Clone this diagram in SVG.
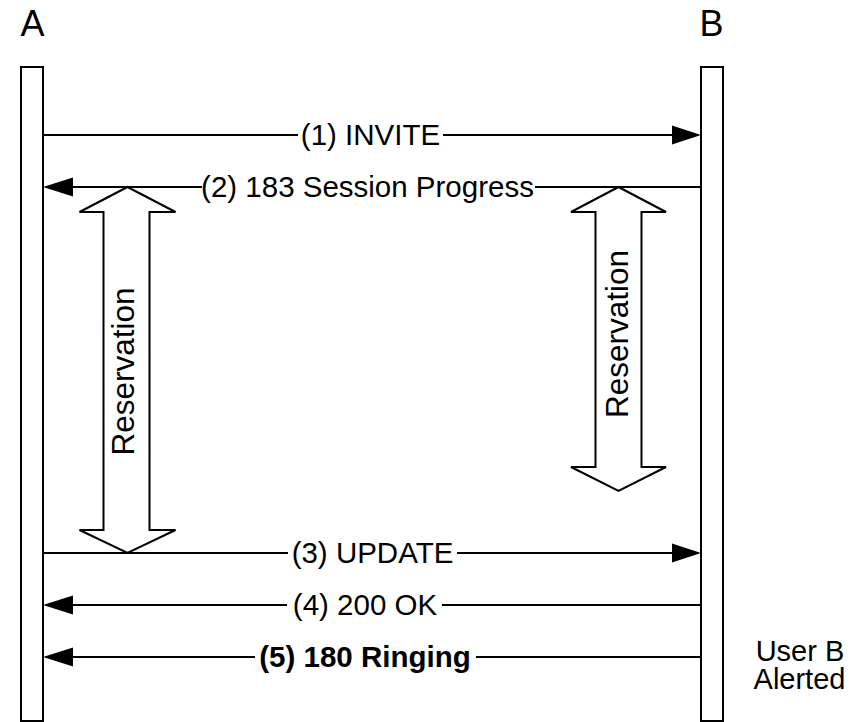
<svg xmlns="http://www.w3.org/2000/svg" width="865" height="722" viewBox="0 0 865 722">
<style>
  .bar { fill: #ffffff; stroke: #000000; stroke-width: 2; }
  .ln { stroke: #000000; stroke-width: 2; fill: none; }
  .head { fill: #000000; stroke: none; }
  .big { fill: #ffffff; stroke: #000000; stroke-width: 2; stroke-linejoin: miter; }
  text { font-family: "Liberation Sans", Arial, sans-serif; font-size: 29.5px; fill: #000000; }
  .lbl { text-anchor: middle; }
  .name { font-size: 36px; }
  .res { font-size: 31.5px; }
  .note { font-size: 29px; }
  .bold { font-weight: bold; }
</style>
<rect width="865" height="722" fill="#ffffff"/>
<g id="A">
  <text class="name" x="20.5" y="36">A</text>
  <rect class="bar" x="21" y="67" width="22" height="654"/>
</g>
<g id="B">
  <text class="name" x="699.5" y="36">B</text>
  <rect class="bar" x="701" y="67" width="22" height="654"/>
</g>
<g id="resA">
  <polygon class="big" points="127.5,187 175.5,212 149.5,212 149.5,530 175.5,530 127.5,553 79.5,530 103.5,530 103.5,212 79.5,212"/>
  <text class="lbl res" transform="translate(134,371.5) rotate(-90)" x="0" y="0">Reservation</text>
</g>
<g id="resB">
  <polygon class="big" points="618.5,187 666,212 641.5,212 641.5,467 666,467 618.5,491 571,467 595.5,467 595.5,212 571,212"/>
  <text class="lbl res" transform="translate(628,334) rotate(-90)" x="0" y="0">Reservation</text>
</g>
<g id="B-alert">
  <text class="lbl note" x="800" y="661">User B</text>
  <text class="lbl note" x="799.5" y="689">Alerted</text>
</g>
<g id="connectors">
  <g id="m1">
    <line class="ln" x1="43" y1="135" x2="298" y2="135"/>
    <line class="ln" x1="443" y1="135" x2="673" y2="135"/>
    <polygon class="head" points="672,125.5 701,135 672,144.5"/>
    <text class="lbl" x="370.5" y="144.5">(1) INVITE</text>
  </g>
  <g id="m2">
    <line class="ln" x1="72" y1="187" x2="202" y2="187"/>
    <line class="ln" x1="535" y1="187" x2="701" y2="187"/>
    <polygon class="head" points="73,177.5 43,187 73,196.5"/>
    <text class="lbl" x="367.5" y="196.5">(2) 183 Session Progress</text>
  </g>
  <g id="m3">
    <line class="ln" x1="43" y1="553" x2="288" y2="553"/>
    <line class="ln" x1="457" y1="553" x2="673" y2="553"/>
    <polygon class="head" points="672,543.5 701,553 672,562.5"/>
    <text class="lbl" x="372.5" y="562.5">(3) UPDATE</text>
  </g>
  <g id="m4">
    <line class="ln" x1="72" y1="605" x2="287" y2="605"/>
    <line class="ln" x1="442" y1="605" x2="701" y2="605"/>
    <polygon class="head" points="73,595.5 43,605 73,614.5"/>
    <text class="lbl" x="365" y="614.5">(4) 200 OK</text>
  </g>
  <g id="m5">
    <line class="ln" x1="72" y1="657" x2="255" y2="657"/>
    <line class="ln" x1="476" y1="657" x2="701" y2="657"/>
    <polygon class="head" points="73,647.5 43,657 73,666.5"/>
    <text class="lbl bold" x="365" y="666.5">(5) 180 Ringing</text>
  </g>
</g>
</svg>
